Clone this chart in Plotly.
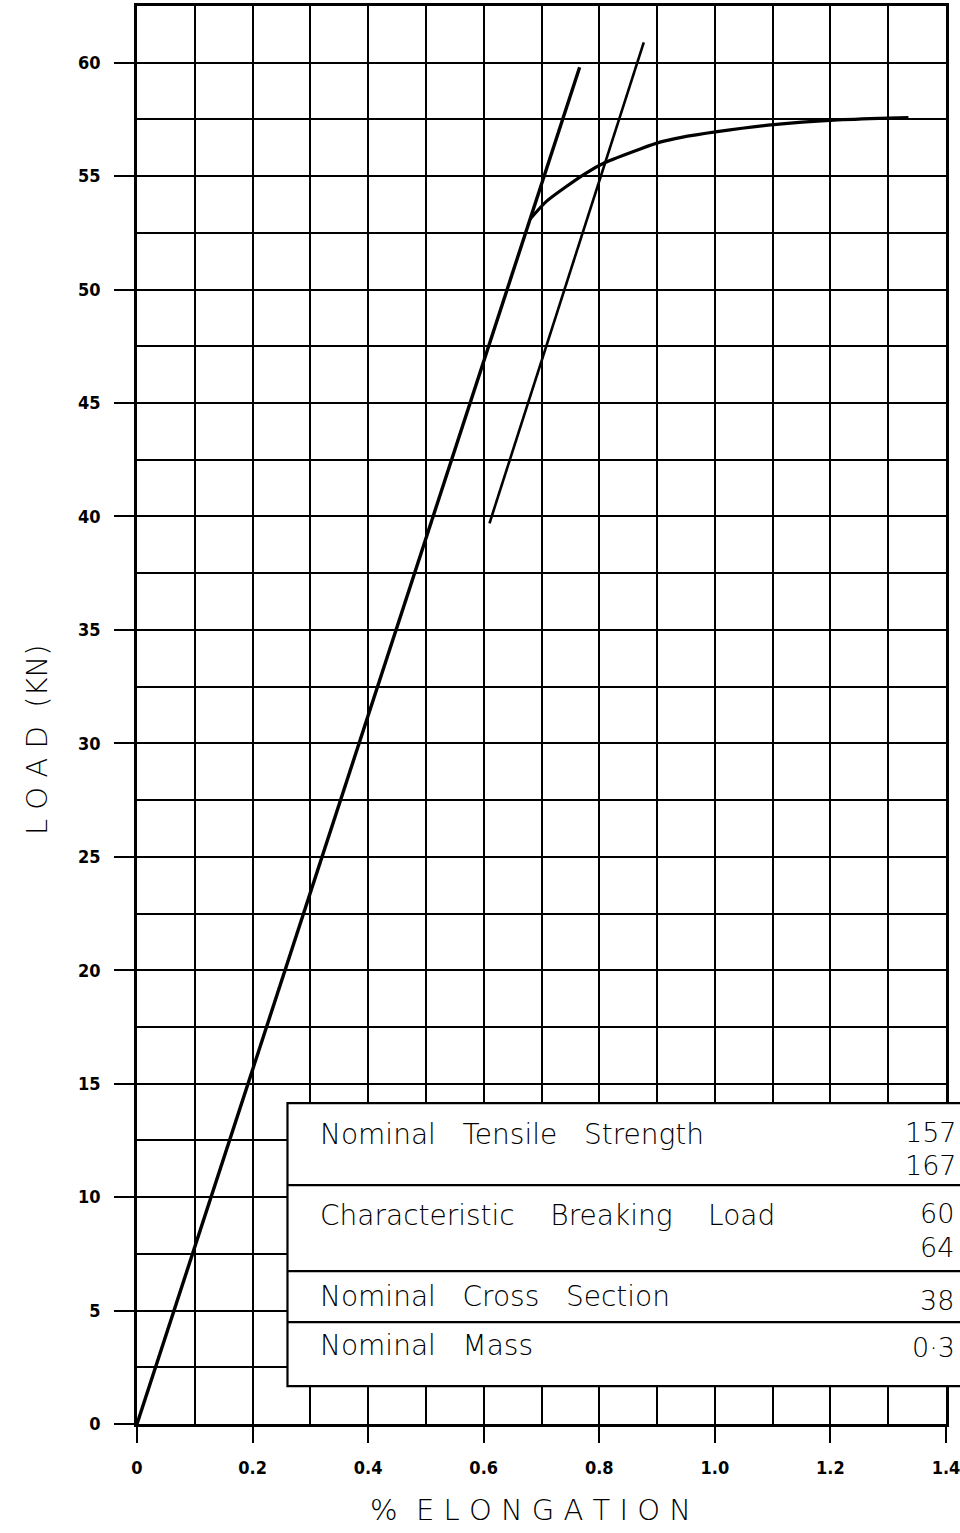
import plotly.graph_objects as go

# ---- data ----
# elastic (straight) part / tangent line
tangent_x = [0.0, 0.766]
tangent_y = [0.0, 59.8]
# yielding part of the load-elongation curve
curve_x = [0.68, 0.709, 0.773, 0.81, 0.871, 0.905, 0.94, 1.004, 1.102, 1.206, 1.301, 1.335]
curve_y = [53.1, 53.9, 55.07, 55.6, 56.2, 56.5, 56.7, 56.96, 57.27, 57.47, 57.56, 57.58]
# offset (proof) line
offset_x = [0.61, 0.877]
offset_y = [39.7, 60.9]

x_tickvals = [0, 0.2, 0.4, 0.6, 0.8, 1.0, 1.2, 1.4]
x_ticktext = ["0", "0.2", "0.4", "0.6", "0.8", "1.0", "1.2", "1.4"]
y_tickvals = [0, 5, 10, 15, 20, 25, 30, 35, 40, 45, 50, 55, 60]
y_ticktext = ["0", "5", "10", "15", "20", "25", "30", "35", "40", "45", "50", "55", "60"]

table_labels = [["Nominal", "Tensile", "Strength"],
                ["Characteristic", "Breaking", "Load"],
                ["Nominal", "Cross", "Section"],
                ["Nominal", "Mass"]]
table_label_y = [12.74, 9.17, 5.6, 3.48]
table_values = ["157", "167", "60", "64", "38", "0·3"]
table_value_y = [12.87, 11.41, 9.3, 7.76, 5.46, 3.39]
table_value_x = [0.947, 0.947, 0.966, 0.966, 0.966, 0.955]
table_rule_y = [10.53, 6.74, 4.49]
table_top, table_bottom = 14.14, 1.67

TICKFONT = dict(family="DejaVu Sans Condensed, Liberation Sans Narrow, DejaVu Sans, sans-serif",
                size=18, color="black", weight="bold")
TEXTFONT = dict(family="DejaVu Sans, sans-serif", size=28, color="black", weight=200)
VALUEFONT = dict(family="DejaVu Sans, sans-serif", size=27, color="black", weight=200)
TITLEFONT = dict(family="DejaVu Sans, sans-serif", size=29, color="black", weight=200)

GAPS = [" \u00a0\u00a0", " \u00a0\u00a0\u00a0", " \u00a0\u00a0", " \u00a0\u00a0"]  # stencil word spacing

fig = go.Figure()
fig.add_trace(go.Scatter(x=tangent_x, y=tangent_y, mode="lines",
                         line=dict(color="black", width=3.4), showlegend=False, hoverinfo="skip"))
fig.add_trace(go.Scatter(x=curve_x, y=curve_y, mode="lines",
                         line=dict(color="black", width=3.2, shape="spline", smoothing=0.6),
                         showlegend=False, hoverinfo="skip"))
fig.add_trace(go.Scatter(x=offset_x, y=offset_y, mode="lines",
                         line=dict(color="black", width=2.6), showlegend=False, hoverinfo="skip"))

grid = dict(showgrid=True, gridcolor="black", gridwidth=2)
fig.update_xaxes(range=[0, 1.4], tickvals=x_tickvals, ticktext=x_ticktext, automargin=False,
                 ticks="outside", ticklen=16, tickwidth=2, tickcolor="black",
                 tickfont=TICKFONT, ticklabelstandoff=10, ticklabeloverflow="allow",
                 showline=True, linecolor="black", linewidth=2.5, mirror=True,
                 zeroline=False,
                 minor=dict(dtick=0.1, tick0=0, showgrid=True, gridcolor="black", gridwidth=2, ticks=""),
                 **grid)
fig.update_yaxes(range=[0, 62.5], tickvals=y_tickvals, ticktext=y_ticktext, automargin=False,
                 ticks="outside", ticklen=20, tickwidth=2, tickcolor="black",
                 tickfont=TICKFONT, ticklabelstandoff=10, ticklabeloverflow="allow",
                 showline=True, linecolor="black", linewidth=2.5, mirror=True,
                 zeroline=False,
                 minor=dict(dtick=2.5, tick0=0, showgrid=True, gridcolor="black", gridwidth=2, ticks=""),
                 **grid)

# table box
shapes = [dict(type="rect", xref="paper", yref="y", x0=0.186, x1=1.2,
               y0=table_bottom, y1=table_top, fillcolor="white",
               line=dict(color="black", width=2.2), layer="above")]
for ry in table_rule_y:
    shapes.append(dict(type="line", xref="paper", yref="y", x0=0.186, x1=1.2,
                       y0=ry, y1=ry, line=dict(color="black", width=2.2), layer="above"))
fig.update_layout(shapes=shapes)

annotations = []
for words, gap, ly in zip(table_labels, GAPS, table_label_y):
    annotations.append(dict(text=gap.join(words), xref="paper", yref="y", x=0.2237, y=ly,
                            xanchor="left", yanchor="middle", showarrow=False, font=TEXTFONT))
for val, vx, vy in zip(table_values, table_value_x, table_value_y):
    annotations.append(dict(text=val, xref="paper", yref="y", x=vx, y=vy,
                            xanchor="left", yanchor="middle", showarrow=False, font=VALUEFONT))
# axis titles
annotations.append(dict(text="%  E L O N G A T I O N", xref="paper", yref="paper",
                        x=(530 - 137) / 809, y=-0.061, xanchor="center", yanchor="middle",
                        showarrow=False, font=TITLEFONT))
annotations.append(dict(text="L O A D  (KN)", xref="paper", yref="paper",
                        x=(37 - 137) / 809, y=(1424 - 740) / 1418, xanchor="center", yanchor="middle",
                        textangle=-90, showarrow=False, font=TITLEFONT))
fig.update_layout(annotations=annotations)

fig.update_layout(width=960, height=1533,
                  margin=dict(l=137, r=14, t=6, b=109, autoexpand=False),
                  paper_bgcolor="white", plot_bgcolor="white",
                  showlegend=False)

fig.write_html("out.html", config={"displayModeBar": False},
               post_script="document.body.style.margin='0px';document.body.style.overflow='hidden';")
